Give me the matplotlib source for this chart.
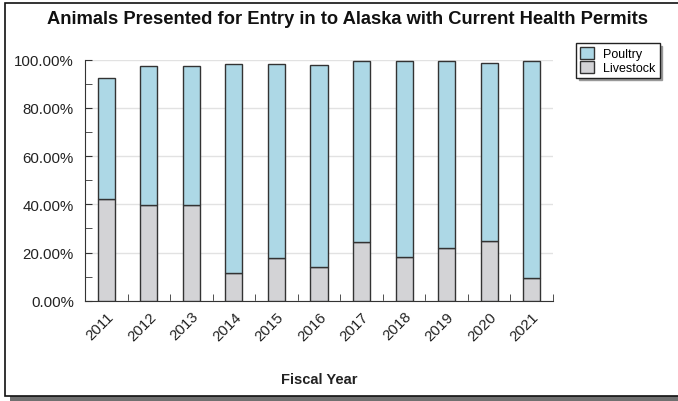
import matplotlib.pyplot as plt
from matplotlib.patches import Rectangle
from matplotlib.ticker import FixedLocator, FuncFormatter

plt.rcParams['font.family'] = ['Liberation Sans', 'DejaVu Sans']

# dados
anos = ["2011", "2012", "2013", "2014", "2015", "2016", "2017", "2018", "2019", "2020", "2021"]
livestock = [42.3, 39.9, 39.9, 11.4, 17.6, 14.1, 24.3, 18.0, 21.9, 24.8, 9.6]
total = [92.5, 97.4, 97.4, 98.3, 98.3, 97.9, 99.3, 99.3, 99.3, 98.8, 99.3]
poultry = [t - l for t, l in zip(total, livestock)]

fig = plt.figure(figsize=(6.78, 4.02), dpi=100)

# moldura com sombra
fig.patches.append(Rectangle((10 / 678, 0), 1, (402 - 397) / 402 + 0.001, transform=fig.transFigure,
                             facecolor="#707070", edgecolor="none", zorder=0))
fig.patches.append(Rectangle((5 / 678, (402 - 397) / 402), 1.1, 393 / 402, transform=fig.transFigure,
                             facecolor="white", edgecolor="#111111", linewidth=1.2, zorder=1))

ax = fig.add_axes([85 / 678, 1 - 301.7 / 402, 468 / 678, (301.7 - 60.7) / 402])
ax.set_zorder(2)

x = list(range(len(anos)))
ax.bar(x, livestock, width=0.4, color="#d3d3d6", edgecolor="#333333", linewidth=1, label="Livestock", zorder=3)
ax.bar(x, poultry, width=0.4, bottom=livestock, color="#add8e6", edgecolor="#333333", linewidth=1,
       label="Poultry", zorder=3)

ax.set_xlim(-0.5, 10.5)
ax.set_ylim(0, 100)

ax.spines["top"].set_visible(False)
ax.spines["right"].set_visible(False)
ax.spines["left"].set_color("#333333")
ax.spines["bottom"].set_color("#333333")

ax.yaxis.set_major_locator(FixedLocator([0, 20, 40, 60, 80, 100]))
ax.yaxis.set_minor_locator(FixedLocator([10, 30, 50, 70, 90]))
ax.yaxis.set_major_formatter(FuncFormatter(lambda v, p: f"{v:.2f}%"))
ax.tick_params(axis="y", which="both", direction="in", length=5, color="#333333", labelsize=10.8,
               labelcolor="#222222", pad=8)
ax.grid(axis="y", color="#e2e2e2", linewidth=1, zorder=0)

ax.set_xticks(x)
ax.set_xticklabels(anos, rotation=45, ha="right", rotation_mode="anchor")
ax.xaxis.set_minor_locator(FixedLocator([i + 0.5 for i in x]))
ax.tick_params(axis="x", which="major", length=0, labelsize=10.8, labelcolor="#222222", pad=6)
ax.tick_params(axis="x", which="minor", direction="in", length=5, color="#333333")

ax.set_xlabel("Fiscal Year", fontsize=10.5, fontweight="bold", color="#222222", labelpad=21)

fig.text(347.5 / 678, 1 - 20 / 402, "Animals Presented for Entry in to Alaska with Current Health Permits",
         ha="center", va="center", fontsize=13.2, fontweight="bold", color="#111111")

h, l = ax.get_legend_handles_labels()
leg = fig.legend(h[::-1], l[::-1], loc="upper left", bbox_to_anchor=(576 / 678, 1 - 44 / 402),
                 fontsize=9, frameon=True, fancybox=False, shadow={"color": "#999999", "alpha": 1},
                 borderpad=0.3, labelspacing=0.05, handlelength=1.1, handleheight=1.1, handletextpad=0.8,
                 borderaxespad=0)
leg.get_frame().set_edgecolor("#222222")
leg.get_frame().set_linewidth(1)
leg.set_zorder(5)

plt.savefig("out.png", dpi=100)
